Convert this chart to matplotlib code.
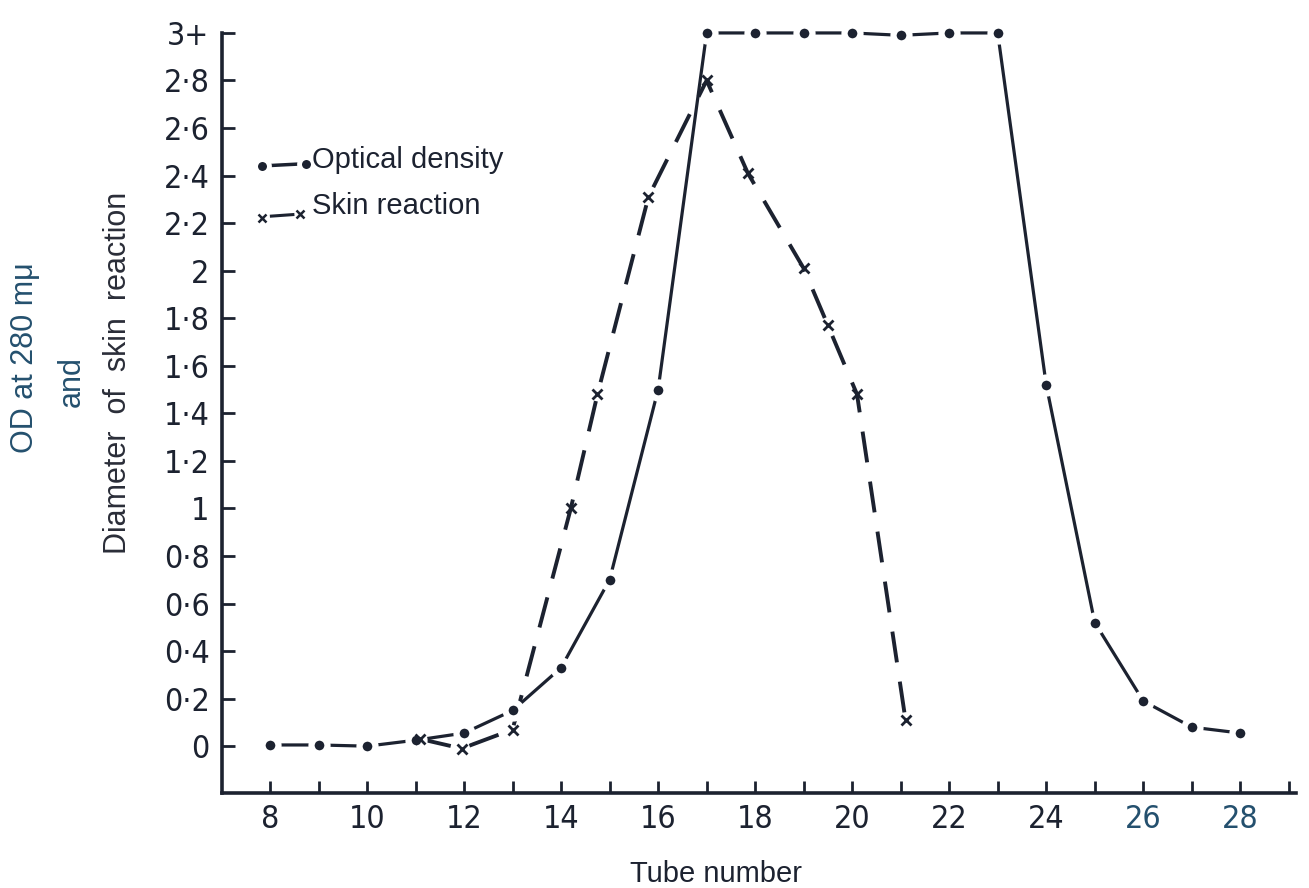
import matplotlib
matplotlib.use("Agg")
import matplotlib.pyplot as plt
from matplotlib import font_manager
from matplotlib.font_manager import FontProperties

# look for an installed condensed sans face (the original lettering is narrow)
cond = None
for f in font_manager.fontManager.ttflist:
    if f.name == 'Liberation Sans Narrow' and f.weight in (400, 'normal', 'regular') and f.style == 'normal':
        cond = FontProperties(family='Liberation Sans Narrow')
        break
if cond is None:
    for f in font_manager.fontManager.ttflist:
        if f.name in ('DejaVu Sans', 'Open Sans', 'Noto Sans', 'Roboto') and \
                str(f.stretch) in ('condensed', 'semi-condensed') and f.style == 'normal':
            cond = FontProperties(family=f.name, stretch=f.stretch)
            break

plt.rcParams['font.family'] = ['Liberation Sans', 'DejaVu Sans']

# Optical density (OD at 280 mμ) per tube
od_tubes = [8, 9, 10, 11, 12, 13, 14, 15, 16, 17, 18, 19, 20, 21, 22, 23, 24, 25, 26, 27, 28]
od_values = [0.005, 0.005, 0.0, 0.025, 0.055, 0.15, 0.33, 0.70, 1.50, 3.0, 3.0, 3.0, 3.0, 2.99,
             3.0, 3.0, 1.52, 0.52, 0.19, 0.08, 0.055]

# Diameter of skin reaction
skin_tubes = [11.1, 11.95, 13.0, 14.2, 14.75, 15.8, 17.0, 17.85, 19.0, 19.5, 20.1, 21.1]
skin_values = [0.03, -0.01, 0.07, 1.0, 1.48, 2.31, 2.8, 2.41, 2.01, 1.77, 1.48, 0.11]

x_ticks = list(range(8, 30))
x_ticklabels = [str(t) if (t % 2 == 0 and t <= 28) else '' for t in x_ticks]
y_ticks = [0, 0.2, 0.4, 0.6, 0.8, 1.0, 1.2, 1.4, 1.6, 1.8, 2.0, 2.2, 2.4, 2.6, 2.8, 3.0]
y_ticklabels = ['0', '0·2', '0·4', '0·6', '0·8', '1', '1·2', '1·4', '1·6', '1·8',
                '2', '2·2', '2·4', '2·6', '2·8', '3+']

ink = '#1c2230'
teal = '#24506e'

fig = plt.figure(figsize=(13.09, 8.88), dpi=100)
ax = fig.add_axes([0.1696, 0.1070, 0.8205, 0.8559])

# OD line: solid with gaps around the dots
ax.plot(od_tubes, od_values, color=ink, lw=2.3, solid_capstyle='butt', zorder=3, clip_on=False)
ax.plot(od_tubes, od_values, linestyle='none', marker='o', ms=11.5, mfc=ink,
        mec='white', mew=4.5, zorder=4, clip_on=False)

# Skin reaction dashed line
ax.plot(skin_tubes, skin_values, color=ink, lw=2.8, dashes=(8, 5), zorder=2, clip_on=False)
ax.plot(skin_tubes, skin_values, linestyle='none', marker='x', ms=7, mec=ink, mew=2,
        zorder=5, clip_on=False)

ax.set_xlim(7.01, 29.15)
ax.set_ylim(-0.197, 3.0)

for s in ['top', 'right']:
    ax.spines[s].set_visible(False)
for s in ['left', 'bottom']:
    ax.spines[s].set_linewidth(2.6)
    ax.spines[s].set_color(ink)

ax.set_xticks(x_ticks)
ax.set_xticklabels(x_ticklabels)
ax.set_yticks(y_ticks)
ax.set_yticklabels(y_ticklabels)
tick_fs = 23 if cond is not None else 21
ax.tick_params(axis='both', direction='in', length=9, width=2, color=ink,
               labelsize=tick_fs, labelcolor=ink)
ax.tick_params(axis='x', pad=8)
ax.tick_params(axis='y', pad=9)
for lbl in ax.get_xticklabels() + ax.get_yticklabels():
    if cond is not None:
        lbl.set_fontproperties(cond)
        lbl.set_fontsize(tick_fs)
for lbl, t in zip(ax.get_xticklabels(), x_ticks):
    if t >= 26:
        lbl.set_color(teal)

fig.text(716 / 1309, 1 - 874 / 888, 'Tube number', ha='center', va='center',
         fontsize=21, color=ink)

lab_fs = 22
fig.text(25 / 1309, 1 - 358 / 888, 'OD at 280 mμ', rotation=90, ha='center', va='center',
         fontsize=lab_fs, color=teal)
fig.text(72 / 1309, 1 - 382 / 888, 'and', rotation=90, ha='center', va='center',
         fontsize=lab_fs, color=teal)
fig.text(118 / 1309, 1 - 373 / 888, 'Diameter  of  skin  reaction', rotation=90,
         ha='center', va='center', fontsize=lab_fs, color='#2a2d38')

# Legend drawn by hand (axes-fraction coordinates)
leg_fs = 21
tr = ax.transAxes
ax.plot([0.0372, 0.0782], [0.825, 0.828], transform=tr, color=ink, lw=2.5, clip_on=False)
ax.plot([0.0372, 0.0782], [0.825, 0.828], transform=tr, linestyle='none', marker='o',
        ms=10, mfc=ink, mec='white', mew=3.5, clip_on=False)
ax.text(0.0838, 0.833, 'Optical density', transform=tr, ha='left', va='center',
        fontsize=leg_fs, color=ink)
ax.plot([0.046, 0.066], [0.759, 0.761], transform=tr, color=ink, lw=2.2, clip_on=False)
ax.plot([0.0372, 0.0726], [0.757, 0.762], transform=tr, linestyle='none', marker='x',
        ms=5.5, mec=ink, mew=1.8, clip_on=False)
ax.text(0.0838, 0.772, 'Skin reaction', transform=tr, ha='left', va='center',
        fontsize=leg_fs, color=ink)

fig.savefig('out.png', dpi=100, facecolor='white')
